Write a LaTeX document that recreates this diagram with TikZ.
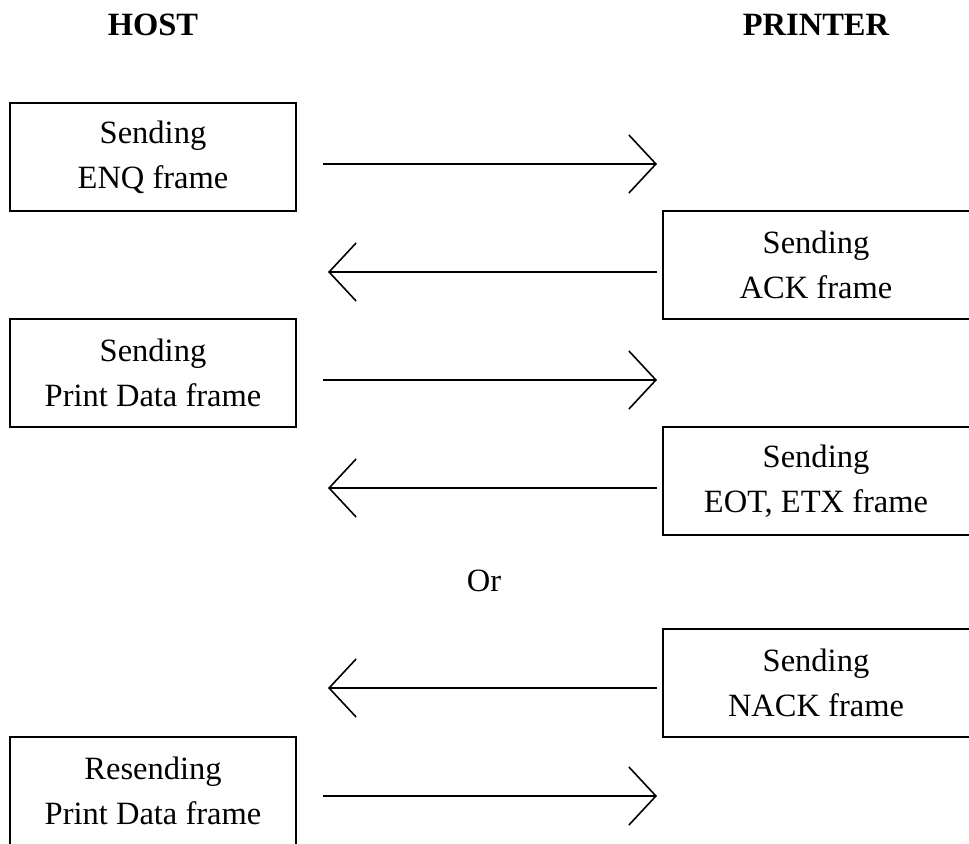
\documentclass[tikz,border=0pt]{standalone}
\usepackage{fontspec}
\setmainfont{Liberation Serif}
\usetikzlibrary{arrows.meta}
\begin{document}
\begin{tikzpicture}[x=0.02cm,y=-0.02cm]
        \tikzstyle{every node}=[font=\fontsize{18.5}{25.5}\selectfont,align=center,inner sep=0pt];
        \tikzstyle{hostbox}=[minimum width=5.72cm,minimum height=2.16cm];
        \tikzstyle{prnbox}=[minimum width=6.12cm,minimum height=2.16cm];
        \tikzstyle{border}=[line width=1.1pt];
        \tikzstyle{msg}=[line width=0.9pt,-{Straight Barb[length=0.54cm,width=1.16cm]}];
        \useasboundingbox (0,0) rectangle (969,844);
        %\node (name) at (x,y) [style] {text};
        \node (host) at (153,25) {\bfseries HOST};
        \node (printer) at (816,25) {\bfseries PRINTER};
        \node[hostbox] (enq) at (153,157) {Sending\\ENQ frame};
        \node[prnbox] (ack) at (816,265) {Sending\\ACK frame};
        \node[hostbox] (data) at (153,373) {Sending\\Print Data frame};
        \node[prnbox] (eot) at (816,481) {Sending\\EOT, ETX frame};
        \node (or) at (484,581) {Or};
        \node[prnbox] (nack) at (816,683) {Sending\\NACK frame};
        \node[hostbox] (resend) at (153,791) {Resending\\Print Data frame};
        %borders (printer boxes run off the right edge, the last one off the bottom)
        \draw[border] (enq.south west) rectangle (enq.north east);
        \draw[border] (ack.north east) -- (ack.north west) -- (ack.south west) -- (ack.south east);
        \draw[border] (data.south west) rectangle (data.north east);
        \draw[border] (eot.north east) -- (eot.north west) -- (eot.south west) -- (eot.south east);
        \draw[border] (nack.north east) -- (nack.north west) -- (nack.south west) -- (nack.south east);
        \draw[border] (resend.south west) -- (resend.north west) -- (resend.north east) -- (resend.south east);
        %message ends
        \coordinate (h1) at (323,164); \coordinate (p1) at (657,164);
        \coordinate (h2) at (328,272); \coordinate (p2) at (657,272);
        \coordinate (h3) at (323,380); \coordinate (p3) at (657,380);
        \coordinate (h4) at (328,488); \coordinate (p4) at (657,488);
        \coordinate (h5) at (328,688); \coordinate (p5) at (657,688);
        \coordinate (h6) at (323,796); \coordinate (p6) at (657,796);
        \draw[msg] (h1)--(p1);
        \draw[msg] (p2)--(h2);
        \draw[msg] (h3)--(p3);
        \draw[msg] (p4)--(h4);
        \draw[msg] (p5)--(h5);
        \draw[msg] (h6)--(p6);
    \end{tikzpicture}
\end{document}
